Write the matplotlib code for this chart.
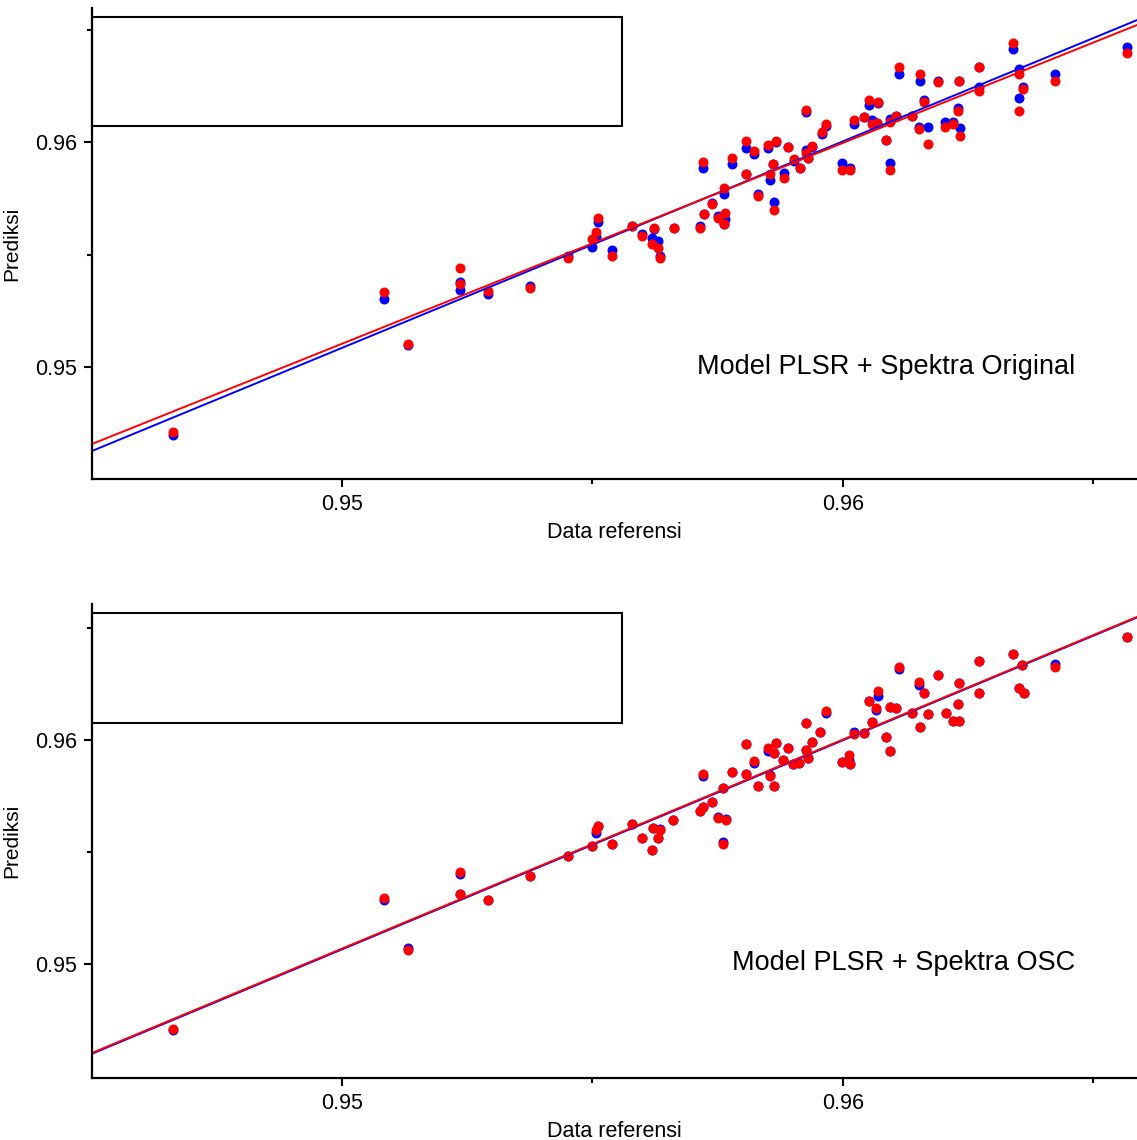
import numpy as np
import matplotlib
matplotlib.use("Agg")
import matplotlib.pyplot as plt
from matplotlib.patches import Rectangle

plt.rcParams['font.family'] = ['Liberation Sans', 'DejaVu Sans']

# panel atas: Spektra Original
ref_ori = [0.94663, 0.95084, 0.95132, 0.95236, 0.95236, 0.95291, 0.95375, 0.95451, 0.95499, 0.95507,
           0.95511, 0.95539, 0.95579, 0.95599, 0.95619, 0.95623, 0.95631, 0.95635, 0.95663, 0.95715,
           0.95721, 0.95723, 0.95739, 0.95751, 0.95762, 0.95764, 0.95762, 0.95778, 0.95806, 0.95806,
           0.95822, 0.95830, 0.95850, 0.95854, 0.95860, 0.95862, 0.95866, 0.95882, 0.95890, 0.95902,
           0.95914, 0.95926, 0.95926, 0.95930, 0.95938, 0.95958, 0.95966, 0.95998, 0.96014, 0.96022,
           0.96042, 0.96052, 0.96058, 0.96068, 0.96070, 0.96086, 0.96094, 0.96094, 0.96106, 0.96112,
           0.96138, 0.96152, 0.96154, 0.96162, 0.96170, 0.96190, 0.96204, 0.96220, 0.96230, 0.96234,
           0.96232, 0.96271, 0.96271, 0.96339, 0.96351, 0.96359, 0.96351, 0.96423, 0.96567]
cal_ori = [0.94698, 0.95302, 0.95098, 0.95378, 0.95342, 0.95324, 0.95360, 0.95493, 0.95533, 0.95578,
           0.95644, 0.95520, 0.95627, 0.95591, 0.95573, 0.95613, 0.95560, 0.95493, 0.95618, 0.95627,
           0.95884, 0.95680, 0.95729, 0.95671, 0.95769, 0.95658, 0.95636, 0.95902, 0.95973, 0.95858,
           0.95947, 0.95769, 0.95973, 0.95831, 0.95902, 0.95733, 0.96000, 0.95862, 0.95978, 0.95916,
           0.95884, 0.95964, 0.96133, 0.95929, 0.95978, 0.96036, 0.96071, 0.95907, 0.95884, 0.96080,
           0.96111, 0.96164, 0.96098, 0.96084, 0.96173, 0.96009, 0.95907, 0.96102, 0.96116, 0.96302,
           0.96116, 0.96067, 0.96271, 0.96187, 0.96067, 0.96271, 0.96089, 0.96089, 0.96151, 0.96062,
           0.96271, 0.96333, 0.96244, 0.96413, 0.96324, 0.96244, 0.96196, 0.96302, 0.96422]
val_ori = [0.94711, 0.95333, 0.95102, 0.95440, 0.95369, 0.95338, 0.95351, 0.95484, 0.95569, 0.95600,
           0.95662, 0.95493, 0.95627, 0.95582, 0.95547, 0.95618, 0.95529, 0.95484, 0.95618, 0.95618,
           0.95911, 0.95680, 0.95724, 0.95662, 0.95796, 0.95684, 0.95636, 0.95929, 0.96004, 0.95858,
           0.95960, 0.95760, 0.95987, 0.95858, 0.95902, 0.95698, 0.96004, 0.95840, 0.95978, 0.95924,
           0.95884, 0.95951, 0.96142, 0.95929, 0.95982, 0.96044, 0.96080, 0.95876, 0.95876, 0.96098,
           0.96111, 0.96187, 0.96080, 0.96084, 0.96178, 0.96009, 0.95876, 0.96089, 0.96116, 0.96333,
           0.96116, 0.96058, 0.96302, 0.96178, 0.95991, 0.96267, 0.96067, 0.96080, 0.96138, 0.96027,
           0.96271, 0.96333, 0.96227, 0.96440, 0.96302, 0.96236, 0.96138, 0.96271, 0.96396]

# panel bawah: Spektra OSC
ref_osc = [0.94663, 0.95084, 0.95132, 0.95236, 0.95236, 0.95291, 0.95375, 0.95451, 0.95499, 0.95507,
           0.95511, 0.95539, 0.95579, 0.95599, 0.95619, 0.95621, 0.95631, 0.95635, 0.95661, 0.95715,
           0.95721, 0.95721, 0.95739, 0.95751, 0.95760, 0.95766, 0.95760, 0.95778, 0.95806, 0.95806,
           0.95822, 0.95830, 0.95850, 0.95854, 0.95862, 0.95862, 0.95866, 0.95880, 0.95890, 0.95900,
           0.95912, 0.95926, 0.95926, 0.95930, 0.95938, 0.95954, 0.95966, 0.95998, 0.96012, 0.96014,
           0.96022, 0.96042, 0.96052, 0.96058, 0.96066, 0.96070, 0.96086, 0.96094, 0.96094, 0.96106,
           0.96112, 0.96138, 0.96152, 0.96154, 0.96162, 0.96170, 0.96190, 0.96206, 0.96220, 0.96230,
           0.96232, 0.96232, 0.96271, 0.96271, 0.96339, 0.96357, 0.96351, 0.96361, 0.96423, 0.96567]
cal_osc = [0.94705, 0.95286, 0.95071, 0.95402, 0.95312, 0.95286, 0.95393, 0.95482, 0.95527, 0.95585,
           0.95616, 0.95536, 0.95625, 0.95563, 0.95509, 0.95607, 0.95563, 0.95603, 0.95643, 0.95683,
           0.95701, 0.95839, 0.95723, 0.95656, 0.95786, 0.95647, 0.95545, 0.95857, 0.95982, 0.95848,
           0.95897, 0.95795, 0.95951, 0.95844, 0.95942, 0.95795, 0.95987, 0.95911, 0.95964, 0.95893,
           0.95897, 0.95955, 0.96076, 0.95920, 0.95991, 0.96036, 0.96121, 0.95902, 0.95911, 0.95893,
           0.96036, 0.96031, 0.96174, 0.96080, 0.96134, 0.96196, 0.96013, 0.95951, 0.96147, 0.96143,
           0.96317, 0.96121, 0.96246, 0.96058, 0.96210, 0.96116, 0.96290, 0.96121, 0.96085, 0.96161,
           0.96085, 0.96254, 0.96353, 0.96210, 0.96384, 0.96335, 0.96232, 0.96210, 0.96339, 0.96460]
val_osc = [0.94710, 0.95295, 0.95063, 0.95411, 0.95312, 0.95286, 0.95393, 0.95482, 0.95527, 0.95598,
           0.95616, 0.95536, 0.95625, 0.95563, 0.95509, 0.95607, 0.95563, 0.95598, 0.95643, 0.95683,
           0.95701, 0.95848, 0.95723, 0.95652, 0.95786, 0.95643, 0.95536, 0.95857, 0.95982, 0.95848,
           0.95906, 0.95795, 0.95964, 0.95839, 0.95942, 0.95795, 0.95987, 0.95911, 0.95964, 0.95893,
           0.95897, 0.95955, 0.96076, 0.95920, 0.95991, 0.96036, 0.96129, 0.95902, 0.95933, 0.95893,
           0.96027, 0.96031, 0.96174, 0.96080, 0.96143, 0.96219, 0.96013, 0.95951, 0.96147, 0.96143,
           0.96326, 0.96121, 0.96259, 0.96058, 0.96210, 0.96116, 0.96290, 0.96121, 0.96085, 0.96161,
           0.96085, 0.96254, 0.96353, 0.96210, 0.96384, 0.96335, 0.96232, 0.96210, 0.96326, 0.96460]

# garis regresi (slope, intercept)
fit_ori_cal = (0.9183, 0.078464)
fit_ori_val = (0.8928, 0.102873)
fit_osc_cal = (0.9336, 0.063730)
fit_osc_val = (0.9332, 0.064144)

judul = ["Model PLSR + Spektra Original", "Model PLSR + Spektra OSC"]

fig = plt.figure(figsize=(11.37, 11.40), dpi=100)
ax1 = fig.add_axes([0.0809, 0.5798, 0.9191, 0.4132])
ax2 = fig.add_axes([0.0809, 0.0544, 0.9191, 0.4158])

panels = [(ax1, ref_ori, cal_ori, val_ori, fit_ori_cal, fit_ori_val, (0.94502, 0.96596), 0.238),
          (ax2, ref_osc, cal_osc, val_osc, fit_osc_cal, fit_osc_val, (0.94491, 0.96607), 0.243)]

for i, (ax, x, yb, yr, fb, fr, ylim, ty) in enumerate(panels):
    x = np.array(x)
    xl = np.array([0.94501, 0.96587])
    ax.plot(x, yb, 'o', color='blue', markersize=7.2, markeredgewidth=0)
    ax.plot(x, yr, 'o', color='red', markersize=7.2, markeredgewidth=0)
    ax.plot(xl, fb[0]*xl+fb[1], color='blue', lw=1.4)
    ax.plot(xl, fr[0]*xl+fr[1], color='red', lw=1.4)
    ax.set_xlim(0.94501, 0.96587)
    ax.set_ylim(*ylim)
    ax.set_xticks([0.95, 0.96])
    ax.set_xticklabels(['0.95', '0.96'])
    ax.set_xticks([0.955, 0.965], minor=True)
    ax.set_yticks([0.95, 0.96])
    ax.set_yticklabels(['0.95', '0.96'])
    ax.set_yticks([0.955, 0.965], minor=True)
    ax.tick_params(which='major', length=6, width=1.5, labelsize=15.5, pad=5)
    ax.tick_params(which='minor', length=3.5, width=1.5)
    for s in ['top', 'right']:
        ax.spines[s].set_visible(False)
    for s in ['left', 'bottom']:
        ax.spines[s].set_linewidth(1.6)
    ax.set_xlabel("Data referensi", fontsize=15.5, labelpad=5)
    ax.set_ylabel("Prediksi", fontsize=15, labelpad=10)
    # kotak legenda kosong
    ax.add_patch(Rectangle((0.0, 0.749), 0.507, 0.232, transform=ax.transAxes,
                           fill=False, edgecolor='black', lw=1.5, clip_on=False))
    ax.text(0.9405, ty, judul[i], transform=ax.transAxes, ha='right', va='center', fontsize=19.5)

fig.savefig("out.png", dpi=100)
